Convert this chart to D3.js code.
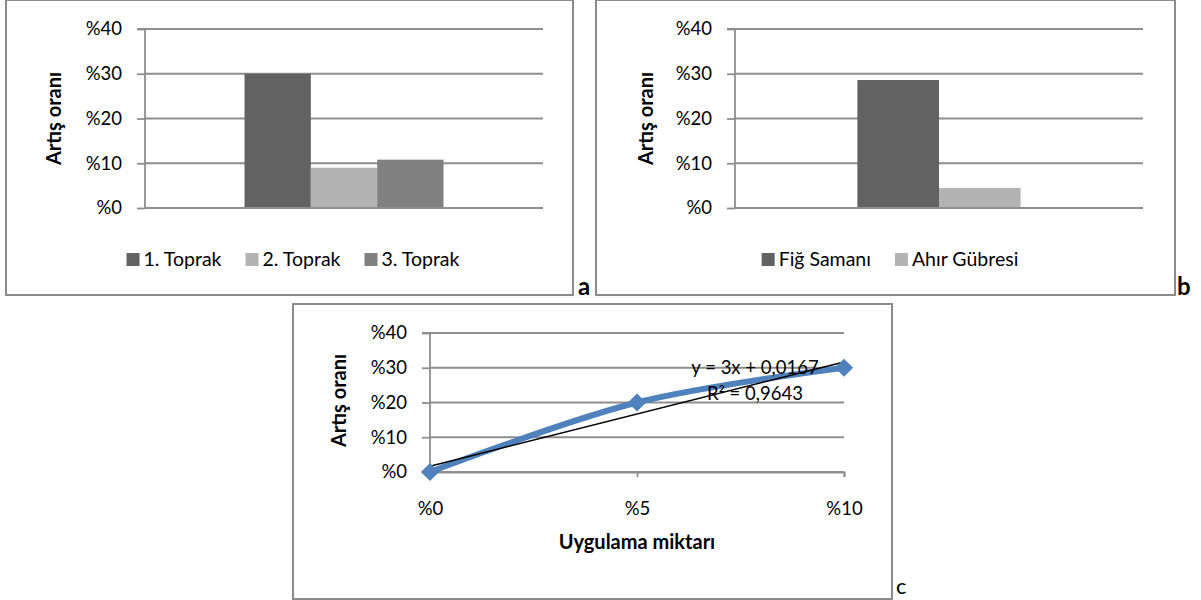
<!DOCTYPE html>
<html>
<head>
<meta charset="utf-8">
<script src="https://cdn.jsdelivr.net/npm/d3@7"></script>
<style>
  html, body { margin: 0; padding: 0; background: #fff; }
  svg { display: block; font-family: Lato, "Noto Sans", sans-serif; }
</style>
</head>
<body>
<svg id="chart" width="1201" height="600"></svg>
<script>
// Panel a: increase by soil type
const soilCategories = ["1. Toprak", "2. Toprak", "3. Toprak"];
const soilValues = [30, 9, 10.8];
const soilColors = ["#626262", "#b3b3b3", "#808080"];

// Panel b: increase by amendment
const amendCategories = ["Fiğ Samanı", "Ahır Gübresi"];
const amendValues = [28.6, 4.5];
const amendColors = ["#626262", "#b3b3b3"];

// Panel c: increase by application amount
const doseX = [0, 5, 10];
const doseY = [0, 20, 30];
const doseTickLabels = ["%0", "%5", "%10"];

// Linear trendline as reported (fractions): y = 3x + 0,0167
const trendSlope = 3;
const trendIntercept = 0.0167;
const trendLabel = "y = 3x + 0,0167";
const r2Label = "R² = 0,9643";

const yTicks = [0, 10, 20, 30, 40];
const yTitle = "Artış oranı";
const xTitleC = "Uygulama miktarı";

const svg = d3.select("#chart");
const GRID = "#8e8e8e";
const FRAME = "#8c8c8c";
const fmtPct = d => "%" + d;

function frame(x0, y0, x1, y1) {
  svg.append("rect")
    .attr("x", x0).attr("y", y0)
    .attr("width", x1 - x0).attr("height", y1 - y0)
    .attr("fill", "none").attr("stroke", FRAME).attr("stroke-width", 2);
}

function yAxisWithGrid(g, y, left, right) {
  g.append("g").selectAll("line").data(yTicks).join("line")
    .attr("x1", left).attr("x2", right)
    .attr("y1", d => y(d)).attr("y2", d => y(d))
    .attr("stroke", GRID).attr("stroke-width", 1.8);
  const ax = g.append("g").attr("transform", `translate(${left},0)`)
    .call(d3.axisLeft(y).tickValues(yTicks).tickFormat(fmtPct).tickSize(8).tickPadding(15));
  ax.select(".domain").attr("stroke", GRID).attr("stroke-width", 1.8)
    .attr("d", `M-8,${y(40)}H0V${y(0)}`);
  ax.selectAll(".tick line").attr("stroke", GRID).attr("stroke-width", 1.8);
  ax.selectAll(".tick text").attr("fill", "#000").style("font-size", "18.5px")
    .style("font-family", "Lato, 'Noto Sans', sans-serif");
}

function yTitleAt(cx, cy) {
  svg.append("text")
    .attr("transform", `translate(${cx},${cy}) rotate(-90)`)
    .attr("text-anchor", "middle").attr("dominant-baseline", "central")
    .style("font-size", "20px").style("font-weight", "bold")
    .text(yTitle);
}

function legend(items, colors, centerX, topY) {
  const g = svg.append("g");
  const sq = 13, gapSq = 4, gapItem = 24;
  let x = 0;
  items.forEach((name, i) => {
    const it = g.append("g").attr("transform", `translate(${x},0)`);
    it.append("rect").attr("x", 0).attr("y", 0).attr("width", sq).attr("height", sq)
      .attr("fill", colors[i]);
    const t = it.append("text").attr("x", sq + gapSq).attr("y", sq)
      .style("font-size", "19.5px").text(name);
    x += sq + gapSq + t.node().getComputedTextLength() + gapItem;
  });
  const total = x - gapItem;
  g.attr("transform", `translate(${centerX - total / 2},${topY})`);
}

function barPanel(cfg) {
  const g = svg.append("g");
  const y = d3.scaleLinear().domain([0, 40]).range([cfg.bottom, cfg.top]);
  yAxisWithGrid(g, y, cfg.left, cfg.right);
  const n = cfg.categories.length;
  // one cluster, gap width of 300% of a bar
  const outer = d3.scaleBand().domain(["grup"]).range([cfg.left, cfg.right])
    .paddingInner(0).paddingOuter(1.5 / n);
  const inner = d3.scaleBand().domain(cfg.categories)
    .range([outer("grup"), outer("grup") + outer.bandwidth()]);
  g.append("g").selectAll("rect").data(cfg.categories).join("rect")
    .attr("x", d => inner(d)).attr("width", inner.bandwidth())
    .attr("y", (d, i) => y(cfg.values[i]))
    .attr("height", (d, i) => y(0) - y(cfg.values[i]))
    .attr("fill", (d, i) => cfg.colors[i]);
  // category axis line
  g.append("line").attr("x1", cfg.left).attr("x2", cfg.right)
    .attr("y1", y(0)).attr("y2", y(0))
    .attr("stroke", GRID).attr("stroke-width", 1.8);
  yTitleAt(cfg.titleX, (cfg.top + cfg.bottom) / 2);
  legend(cfg.categories, cfg.colors, cfg.legendX, 253);
}

function panelLetter(txt, x, y, bold, size) {
  svg.append("text").attr("x", x).attr("y", y)
    .style("font-size", size + "px").style("font-weight", bold ? "bold" : "normal")
    .text(txt);
}

// ---- Panel a ----
frame(6, 0, 573, 295);
barPanel({
  left: 145, right: 543, top: 29, bottom: 208,
  categories: soilCategories, values: soilValues, colors: soilColors,
  titleX: 53, legendX: 293
});
panelLetter("a", 578, 295, true, 24);

// ---- Panel b ----
frame(596, 0, 1175, 295);
barPanel({
  left: 735, right: 1143, top: 29, bottom: 208,
  categories: amendCategories, values: amendValues, colors: amendColors,
  titleX: 645, legendX: 890
});
panelLetter("b", 1177, 295, true, 24);

// ---- Panel c ----
frame(293, 304, 892, 599);
(function () {
  const left = 430, right = 844, top = 333, bottom = 472;
  const g = svg.append("g");
  const y = d3.scaleLinear().domain([0, 40]).range([bottom, top]);
  const x = d3.scaleLinear().domain([0, 10]).range([left, right]);
  yAxisWithGrid(g, y, left, right);

  const xa = g.append("g").attr("transform", `translate(0,${bottom})`)
    .call(d3.axisBottom(x).tickValues(doseX).tickFormat((d, i) => doseTickLabels[i])
      .tickSize(5).tickPadding(25));
  xa.select(".domain").attr("stroke", GRID).attr("stroke-width", 1.8);
  xa.selectAll(".tick line").attr("stroke", GRID).attr("stroke-width", 1.8);
  xa.selectAll(".tick text").attr("fill", "#000").style("font-size", "18.5px")
    .style("font-family", "Lato, 'Noto Sans', sans-serif");

  const pts = doseX.map((d, i) => [d, doseY[i]]);
  const line = d3.line().x(d => x(d[0])).y(d => y(d[1])).curve(d3.curveCatmullRom.alpha(0.5));
  g.append("path").datum(pts).attr("d", line)
    .attr("fill", "none").attr("stroke", "#4f81bd").attr("stroke-width", 6)
    .attr("stroke-linejoin", "round");

  // trendline in percent units
  const trendAt = v => (trendSlope * (v / 100) + trendIntercept) * 100;
  const xs = d3.extent(doseX);
  g.append("line")
    .attr("x1", x(xs[0])).attr("y1", y(trendAt(xs[0])))
    .attr("x2", x(xs[1])).attr("y2", y(trendAt(xs[1])))
    .attr("stroke", "#000").attr("stroke-width", 1.5);

  g.append("g").selectAll("path").data(pts).join("path")
    .attr("d", d3.symbol(d3.symbolSquare, 165))
    .attr("transform", d => `translate(${x(d[0])},${y(d[1])}) rotate(45)`)
    .attr("fill", "#4f81bd");

  g.append("text").attr("x", 755).attr("y", 374).attr("text-anchor", "middle")
    .style("font-size", "18.5px").text(trendLabel);
  g.append("text").attr("x", 755).attr("y", 400).attr("text-anchor", "middle")
    .style("font-size", "18.5px").text(r2Label);

  yTitleAt(338, (top + bottom) / 2 - 2);
  svg.append("text").attr("x", (left + right) / 2).attr("y", 549)
    .attr("text-anchor", "middle").style("font-size", "20px").style("font-weight", "bold")
    .text(xTitleC);
})();
panelLetter("c", 896, 594, false, 22);
</script>
</body>
</html>
